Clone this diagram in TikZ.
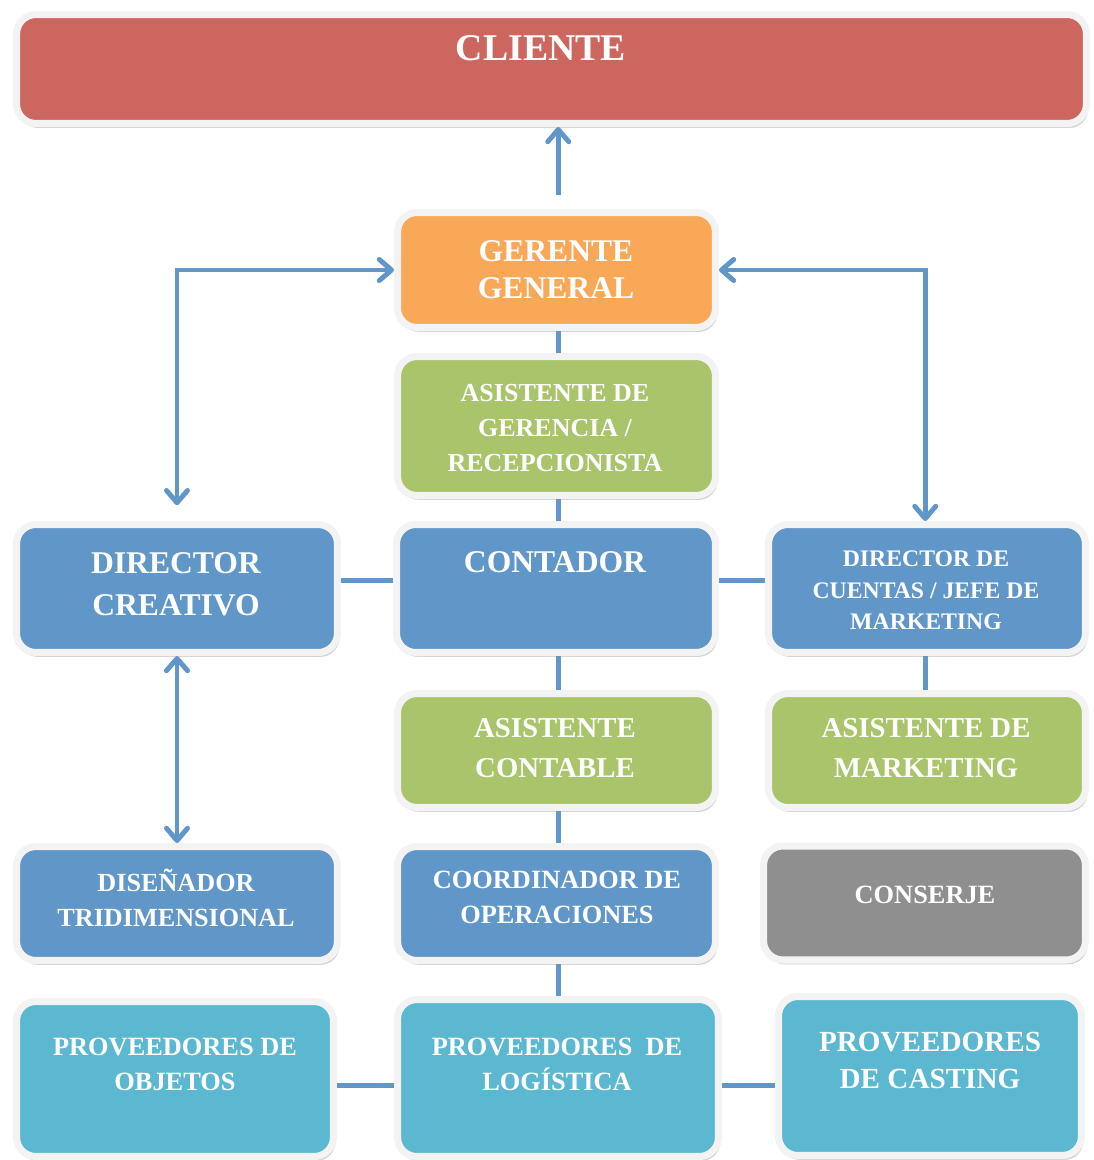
\documentclass[tikz,border=0pt]{standalone}
\usepackage{fontspec}
\setmainfont{Liberation Serif}
\usetikzlibrary{arrows.meta,shadows,backgrounds}

\definecolor{rojo}{HTML}{CD665E}
\definecolor{naranja}{HTML}{F9A857}
\definecolor{verde}{HTML}{A9C46A}
\definecolor{azul}{HTML}{6096C8}
\definecolor{gris}{HTML}{8F8F8F}
\definecolor{celeste}{HTML}{5CB8D0}
\definecolor{borde}{HTML}{F3F3F3}
\definecolor{linea}{HTML}{6096C8}

\begin{document}
\begin{tikzpicture}[x=0.02cm,y=-0.02cm,
  >={Straight Barb[round,length=7pt,width=12pt]},
  box/.style={draw=borde,line width=4pt,rounded corners=11pt,inner sep=0pt,
    drop shadow={shadow xshift=1.2pt,shadow yshift=-2.5pt,opacity=.25,fill=black!70}},
  txt/.style={text=white,align=center,inner sep=0pt},
  lnk/.style={draw=linea,line width=2.8pt}]
\useasboundingbox (0,0) rectangle (1093,1160);
% cajas
\node[box,fill=rojo,minimum width=21.4cm,minimum height=2.18cm] (cliente) at (551.5,69) {};
\node[box,fill=naranja,minimum width=6.36cm,minimum height=2.3cm] (gerente) at (556.5,270) {};
\node[box,fill=verde,minimum width=6.36cm,minimum height=2.78cm] (asist) at (556.5,426) {};
\node[box,fill=azul,minimum width=6.42cm,minimum height=2.56cm] (dircre) at (177,588.5) {};
\node[box,fill=azul,minimum width=6.38cm,minimum height=2.56cm] (contador) at (556,588.5) {};
\node[box,fill=azul,minimum width=6.34cm,minimum height=2.56cm] (dircta) at (927,588.5) {};
\node[box,fill=verde,minimum width=6.36cm,minimum height=2.28cm] (asicon) at (556.5,750.5) {};
\node[box,fill=verde,minimum width=6.34cm,minimum height=2.28cm] (asimkt) at (927,750.5) {};
\node[box,fill=azul,minimum width=6.42cm,minimum height=2.28cm] (disenador) at (177,903.5) {};
\node[box,fill=azul,minimum width=6.36cm,minimum height=2.28cm] (coord) at (556.5,903.5) {};
\node[box,fill=gris,minimum width=6.44cm,minimum height=2.28cm] (conserje) at (924.5,903) {};
\node[box,fill=celeste,minimum width=6.34cm,minimum height=3.1cm] (provobj) at (175,1079) {};
\node[box,fill=celeste,minimum width=6.42cm,minimum height=3.14cm] (provlog) at (558,1078) {};
\node[box,fill=celeste,minimum width=6.06cm,minimum height=3.18cm] (provcas) at (930,1076) {};
% textos
\node[txt,font=\fontsize{21.5}{25}\selectfont\bfseries] (cliente-t) at (541,48) {CLIENTE};
\node[txt,font=\fontsize{18}{21}\selectfont\bfseries] (gerente-t) at (556,269.5) {GERENTE\\GENERAL};
\node[txt,font=\fontsize{14.8}{20}\selectfont\bfseries] (asist-t) at (555,428) {ASISTENTE DE\\GERENCIA /\\RECEPCIONISTA};
\node[txt,font=\fontsize{18}{24}\selectfont\bfseries] (dircre-t) at (176,584) {DIRECTOR\\CREATIVO};
\node[txt,font=\fontsize{18}{21}\selectfont\bfseries] (contador-t) at (555,562) {CONTADOR};
\node[txt,font=\fontsize{13.5}{18}\selectfont\bfseries] (dircta-t) at (926,590.5) {DIRECTOR DE\\CUENTAS / JEFE DE\\MARKETING};
\node[txt,font=\fontsize{16.4}{22.7}\selectfont\bfseries] (asicon-t) at (555,748) {ASISTENTE\\CONTABLE};
\node[txt,font=\fontsize{16.4}{22.7}\selectfont\bfseries] (asimkt-t) at (926,748) {ASISTENTE DE\\MARKETING};
\node[txt,font=\fontsize{14.9}{20}\selectfont\bfseries] (disenador-t) at (176,897.5) {DISEÑADOR\\TRIDIMENSIONAL};
\node[txt,font=\fontsize{15}{20}\selectfont\bfseries] (coord-t) at (557,897.5) {COORDINADOR DE\\OPERACIONES};
\node[txt,font=\fontsize{15}{20}\selectfont\bfseries] (conserje-t) at (925,895) {CONSERJE};
\node[txt,font=\fontsize{15}{20}\selectfont\bfseries] (provobj-t) at (175,1064.5) {PROVEEDORES DE\\OBJETOS};
\node[txt,font=\fontsize{15}{20}\selectfont\bfseries] (provlog-t) at (557,1064.5) {PROVEEDORES\ \ DE\\LOGÍSTICA};
\node[txt,font=\fontsize{16.6}{21.5}\selectfont\bfseries] (provcas-t) at (930,1060.5) {PROVEEDORES\\DE CASTING};
% conexiones
\begin{scope}[on background layer]
\draw[lnk] ([xshift=1pt]gerente.center) -- ([xshift=1pt]gerente.center |- provlog.center);
\draw[lnk,->] ([xshift=1pt,yshift=8pt]gerente.north) -- ([xshift=1pt]gerente.north |- cliente.south);
\draw[lnk,<->,shorten <=9pt] (dircre.north) |- (gerente.west);
\draw[lnk,<->] ([xshift=-1pt]dircta.north) |- (gerente.east);
\draw[lnk,<->] (dircre.south) -- (disenador.north);
\draw[lnk] ([yshift=4.8pt]dircre.east) -- ([yshift=4.8pt]contador.west);
\draw[lnk] ([yshift=4.8pt]contador.east) -- ([yshift=4.8pt]dircta.west);
\draw[lnk] ([xshift=-1pt]dircta.center) -- ([xshift=-1pt]asimkt.center);
\draw[lnk] ([yshift=-4pt]provlog.west -| provobj.east) -- ([yshift=-4pt]provlog.west);
\draw[lnk] ([yshift=-4pt]provlog.east) -- ([yshift=-4pt]provlog.east -| provcas.west);
\end{scope}
\end{tikzpicture}
\end{document}
